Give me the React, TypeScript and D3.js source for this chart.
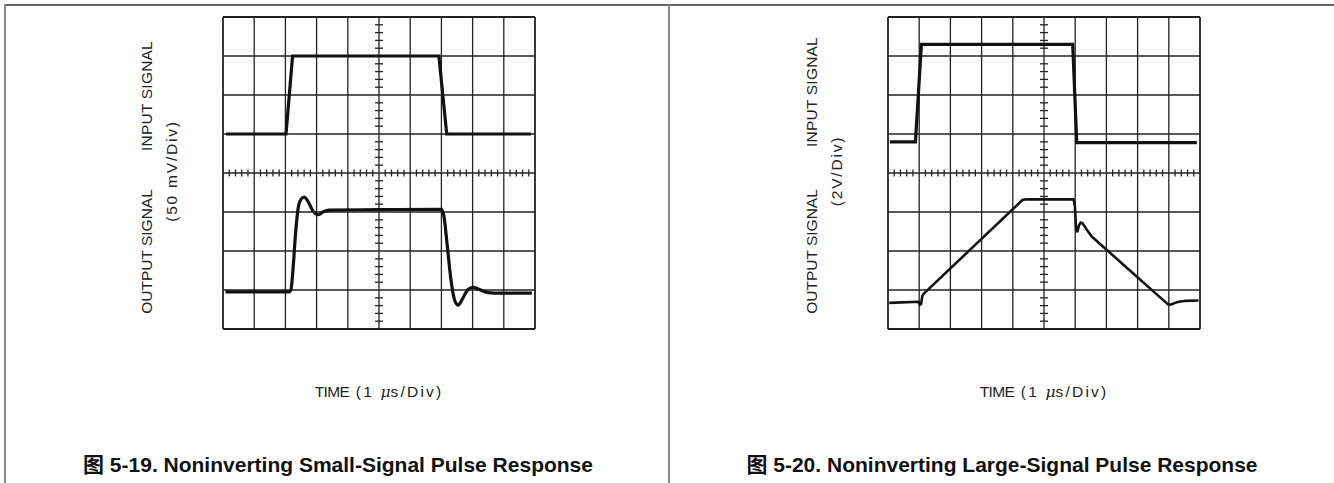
import React from "react";
import * as d3 from "d3";

// ---- data (time in divisions 0..10, value in divisions -4..4, 0 = screen centre) ----
const xDivs = d3.range(0, 11);
const yDivs = d3.range(-4, 5);

const smallInputT = [0.1, 2.02, 2.23, 6.92, 7.17, 9.87];
const smallInputV = [1.0, 1.0, 3.0, 3.0, 1.0, 1.0];

const smallOutputT = [0.08, 2.12, 2.18, 2.25, 2.33, 2.42, 2.5, 2.6, 2.72, 2.88, 3.05, 3.2, 3.4, 5.0, 7.0, 7.08, 7.18, 7.3, 7.42, 7.54, 7.66, 7.84, 8.02, 8.2, 8.45, 8.7, 9.9];
const smallOutputV = [-3.05, -3.05, -2.98, -2.4, -1.5, -0.85, -0.67, -0.62, -0.72, -0.97, -1.07, -1.0, -0.95, -0.94, -0.93, -1.1, -1.8, -2.7, -3.25, -3.39, -3.25, -3.0, -2.93, -2.98, -3.06, -3.08, -3.08];

const largeInputT = [0.06, 0.88, 1.07, 5.92, 6.05, 9.9];
const largeInputV = [0.8, 0.8, 3.3, 3.3, 0.78, 0.78];

const largeOutputT = [0.04, 0.98, 1.02, 1.06, 1.1, 1.14, 4.22, 4.3, 4.38, 4.48, 5.95, 5.99, 6.03, 6.07, 6.12, 6.17, 6.22, 6.28, 6.36, 6.45, 6.53, 8.92, 8.98, 9.08, 9.2, 9.32, 9.5, 9.95];
const largeOutputV = [-3.33, -3.3, -3.38, -3.36, -3.15, -3.1, -0.76, -0.7, -0.68, -0.675, -0.675, -0.85, -1.45, -1.5, -1.35, -1.27, -1.28, -1.34, -1.44, -1.54, -1.63, -3.33, -3.37, -3.37, -3.33, -3.3, -3.28, -3.27];

const scaleLabels = ["(50 mV/Div)", "(2V/Div)"];
const captions = [
  "图 5-19. Noninverting Small-Signal Pulse Response",
  "图 5-20. Noninverting Large-Signal Pulse Response",
];

type Pt = [number, number];
const zip = (t: number[], v: number[]): Pt[] => t.map((d, i) => [d, v[i]]);

const GRID = 312;
const TOP = 17;
const LABEL_FONT = "'Liberation Sans', Arial, sans-serif";

function Scope(props: {
  x0: number;
  input: Pt[];
  output: Pt[];
  smooth: boolean;
  scaleLabel: string;
  caption: string;
  captionX: number;
  inputLabelY: number;
  outputWidth: number;
}) {
  const { x0, input, output, smooth, scaleLabel, caption, captionX, inputLabelY, outputWidth } = props;
  const x = d3.scaleLinear().domain([0, 10]).range([x0, x0 + GRID]);
  const y = d3.scaleLinear().domain([-4, 4]).range([TOP + GRID, TOP]);
  const inLine = d3.line<Pt>().x((d) => x(d[0])).y((d) => y(d[1])).curve(d3.curveLinear);
  const outLine = d3
    .line<Pt>()
    .x((d) => x(d[0]))
    .y((d) => y(d[1]))
    .curve(smooth ? d3.curveMonotoneX : d3.curveLinear);

  const subX: number[] = [];
  for (let i = 0; i < 10; i++) for (let k = 1; k < 5; k++) subX.push(i + k / 5);
  const subY: number[] = [];
  for (let i = -4; i < 4; i++) for (let k = 1; k < 5; k++) subY.push(i + k / 5);

  const cx = x(5);
  const cy = y(0);
  const labX = x0 - 71;
  const scX = x0 - 46;

  return (
    <g>
      {xDivs.map((d) => (
        <line key={"vx" + d} x1={x(d)} x2={x(d)} y1={TOP} y2={TOP + GRID} stroke="#222" strokeWidth={d === 0 || d === 10 ? 1.8 : 1.3} />
      ))}
      {yDivs.map((d) => (
        <line key={"hy" + d} x1={x0} x2={x0 + GRID} y1={y(d)} y2={y(d)} stroke="#222" strokeWidth={d === -4 || d === 4 ? 1.8 : 1.3} />
      ))}
      {subX.map((d, i) => (
        <line key={"tx" + i} x1={x(d)} x2={x(d)} y1={cy - 3.5} y2={cy + 3.5} stroke="#222" strokeWidth={1.3} />
      ))}
      {subY.map((d, i) => (
        <line key={"ty" + i} x1={cx - 4} x2={cx + 4} y1={y(d)} y2={y(d)} stroke="#222" strokeWidth={1.3} />
      ))}
      <path d={inLine(input) || ""} fill="none" stroke="#111" strokeWidth={3.2} strokeLinejoin="miter" />
      <path d={outLine(output) || ""} fill="none" stroke="#111" strokeWidth={outputWidth} strokeLinejoin="round" />

      <g fontFamily={LABEL_FONT} fontSize={15.5} fill="#222">
        <text transform={`translate(${labX},${inputLabelY}) rotate(-90)`} textAnchor="middle" letterSpacing={0.2}>INPUT SIGNAL</text>
        <text transform={`translate(${labX},251.5) rotate(-90)`} textAnchor="middle" letterSpacing={0}>OUTPUT SIGNAL</text>
        <text transform={`translate(${scX},171) rotate(-90)`} textAnchor="middle" letterSpacing={1.8}>{scaleLabel}</text>
        <text x={cx} y={397} textAnchor="middle" fontSize={15.5}>
          <tspan letterSpacing={-0.6}>TIME</tspan>
          <tspan letterSpacing={2.2}> (1 </tspan>
          <tspan fontStyle="italic" fontFamily="'DejaVu Serif', serif">μ</tspan>
          <tspan letterSpacing={2.2}>s/Div)</tspan>
        </text>
      </g>
      <text x={captionX} y={472} textAnchor="middle" fontFamily="'Liberation Sans', Arial, 'Noto Sans CJK SC', sans-serif" fontWeight="bold" fontSize={21} fill="#111">
        {caption}
      </text>
    </g>
  );
}

export default function App() {
  return (
    <svg width={1334} height={483} style={{ position: "absolute", left: 0, top: 0, background: "#fff" }}>
      <rect x={0} y={0} width={1334} height={483} fill="#fff" />
      <line x1={4} x2={1334} y1={5} y2={5} stroke="#333" strokeWidth={1.5} />
      <line x1={5} x2={5} y1={4.5} y2={483} stroke="#888" strokeWidth={2} />
      <line x1={669} x2={669} y1={5} y2={483} stroke="#888" strokeWidth={2} />
      <Scope
        x0={223}
        input={zip(smallInputT, smallInputV)}
        output={zip(smallOutputT, smallOutputV)}
        smooth={true}
        scaleLabel={scaleLabels[0]}
        caption={captions[0]}
        captionX={338}
        inputLabelY={96}
        outputWidth={3.2}
      />
      <Scope
        x0={888}
        input={zip(largeInputT, largeInputV)}
        output={zip(largeOutputT, largeOutputV)}
        smooth={false}
        scaleLabel={scaleLabels[1]}
        caption={captions[1]}
        captionX={1002}
        inputLabelY={92}
        outputWidth={2.6}
      />
    </svg>
  );
}
